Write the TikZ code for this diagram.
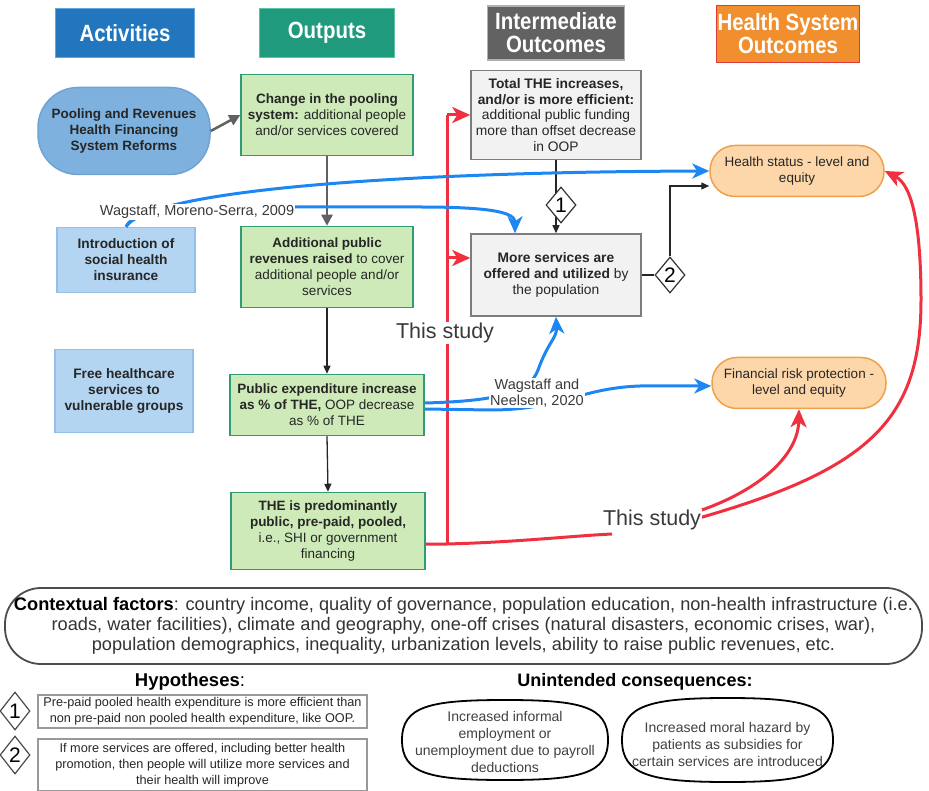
\documentclass[tikz,border=0pt]{standalone}
\usepackage{fontspec}
\setmainfont{Liberation Sans}
\newfontfamily\condfont[FakeStretch=0.87]{Liberation Sans}
\usetikzlibrary{arrows.meta,shapes.geometric}
\definecolor{actblue}{HTML}{2276BE}
\definecolor{actline}{HTML}{63A5DD}
\definecolor{outgreen}{HTML}{1F9A7C}
\definecolor{outln}{HTML}{5CC3A3}
\definecolor{intgray}{HTML}{626262}
\definecolor{intln}{HTML}{B0B0B0}
\definecolor{hsoorange}{HTML}{F18F2E}
\definecolor{hsoln}{HTML}{DD3A3A}
\definecolor{poolfill}{HTML}{7EB1DE}
\definecolor{poolln}{HTML}{6EA3D4}
\definecolor{lbfill}{HTML}{B3D5F1}
\definecolor{lbln}{HTML}{93C0E8}
\definecolor{gfill}{HTML}{CDEAB8}
\definecolor{gln}{HTML}{2F9C74}
\definecolor{bxfill}{HTML}{F2F2F2}
\definecolor{bxln}{HTML}{7D7D7D}
\definecolor{ofill}{HTML}{FDD7A9}
\definecolor{oln}{HTML}{EFA04A}
\definecolor{txt}{HTML}{262626}
\definecolor{arrblue}{HTML}{1C87F2}
\definecolor{arrred}{HTML}{F0303F}
\definecolor{arrgray}{HTML}{616161}
\definecolor{lbl}{HTML}{3A3A3A}
\begin{document}
\begin{tikzpicture}[x=1pt,y=-1pt,
  hdr/.style={line width=1.5pt, text=white, font=\condfont\bfseries\fontsize{23.5}{23}\selectfont, align=center, inner sep=0pt},
  box/.style={line width=1.5pt, align=center, inner sep=1pt, font=\fontsize{13.5}{16}\selectfont, text=txt},
  gbox/.style={box, fill=gfill, draw=gln},
  lbbox/.style={box, fill=lbfill, draw=lbln, minimum width=138pt},
  graybox/.style={box, fill=bxfill, draw=bxln, minimum width=170pt, font=\fontsize{13.8}{15.6}\selectfont},
  obox/.style={box, fill=ofill, draw=oln, rounded corners=25pt, minimum width=174pt, minimum height=51pt, font=\fontsize{13.5}{16}\selectfont},
  dia/.style={diamond, draw=black!80, line width=1.2pt, fill=white, inner sep=0pt, minimum width=30pt, minimum height=36pt, font=\fontsize{21}{21}\selectfont},
  grayarr/.style={draw=arrgray, line width=2.5pt, -{Triangle[length=11pt,width=11pt]}},
  blkarr/.style={draw=black!85, line width=1.3pt, -{Triangle[length=8pt,width=7pt]}},
  redarr/.style={draw=arrred, line width=3pt, -{Stealth[length=18pt,width=16pt,inset=5pt]}},
  redln/.style={draw=arrred, line width=3pt},
  bluearr/.style={draw=arrblue, line width=3pt, -{Stealth[length=17pt,width=15pt,inset=5pt]}},
  studylbl/.style={fill=white, inner sep=1pt, text=lbl, font=\fontsize{21.5}{22}\selectfont},
  reflbl/.style={fill=white, inner sep=1pt, text=lbl, align=center, font=\fontsize{14.5}{15.5}\selectfont},
  hypbox/.style={draw=black!40, line width=1.6pt, align=center, inner sep=1pt, text=txt, font=\fontsize{12.7}{16}\selectfont, minimum width=329pt},
  ubl/.style={draw=black, line width=1.8pt},
  ubtxt/.style={align=center, text=black!75, font=\fontsize{14}{17}\selectfont, inner sep=0pt}
]
\useasboundingbox (0,0) rectangle (929,791);

% headers
\node[hdr, fill=actblue, draw=actline, minimum width=139pt, minimum height=49pt] (act) at (125,33) {Activities};
\node[hdr, fill=outgreen, draw=outln, minimum width=135pt, minimum height=49pt] (out) at (327,33) {Outputs};
\node[hdr, fill=intgray, draw=intln, minimum width=137pt, minimum height=54pt] (inter) at (556,33) {Intermediate\\Outcomes};
\node[hdr, fill=hsoorange, draw=hsoln, minimum width=143pt, minimum height=57pt] (hso) at (788,34) {Health System\\Outcomes};

% activities
\node[box, fill=poolfill, draw=poolln, rounded corners=40pt, minimum width=172pt, minimum height=87pt, font=\bfseries\fontsize{13.5}{16}\selectfont] (pool) at (124,131) {Pooling and Revenues\\Health Financing\\System Reforms};
\node[lbbox, minimum height=65pt, font=\bfseries\fontsize{13.7}{16}\selectfont] (intro) at (126,260) {Introduction of\\social health\\insurance};
\node[lbbox, minimum height=83pt, font=\bfseries\fontsize{13.7}{16}\selectfont] (free) at (124,391) {Free healthcare\\services to\\vulnerable groups};

% outputs
\node[gbox, minimum width=172pt, minimum height=81pt] (chg) at (327,115) {\textbf{Change in the pooling}\\\textbf{system:} additional people\\and/or services covered};
\node[gbox, minimum width=172pt, minimum height=81pt] (addp) at (327,267) {\textbf{Additional public}\\\textbf{revenues raised} to cover\\additional people and/or\\services};
\node[gbox, minimum width=194pt, minimum height=61pt] (pexp) at (327,405) {\textbf{Public expenditure increase}\\\textbf{as \% of THE,} OOP decrease\\as \% of THE};
\node[gbox, minimum width=194pt, minimum height=77pt] (thep) at (328,531) {\textbf{THE is predominantly}\\\textbf{public, pre-paid, pooled,}\\i.e., SHI or government\\financing};

% intermediate
\node[graybox, minimum height=89pt] (tot) at (556,115) {\textbf{Total THE increases,}\\\textbf{and/or is more efficient:}\\additional public funding\\more than offset decrease\\in OOP};
\node[graybox, minimum height=82pt] (ms) at (556,275) {\textbf{More services are}\\\textbf{offered and utilized} by\\the population};

% health system outcomes
\node[obox] (hs) at (797,171) {Health status - level and\\equity};
\node[obox] (frp) at (799,383) {Financial risk protection -\\level and equity};

% black / gray arrows
\draw[grayarr] (pool.east) -- (chg.west);
\draw[grayarr] (chg.south) -- (addp.north);
\draw[blkarr] (addp.south) -- (pexp.north);
\draw[blkarr] (pexp.south) -- (thep.north);
\draw[blkarr] (tot.south) -- (ms.north);
\node[dia] (d1) at (561,205) {1};
\node[dia] (d2) at (670,275) {2};
\draw[draw=black!85, line width=1.3pt] (ms.east) -- (d2.west);
\draw[blkarr] (d2.north) |- ([yshift=-15pt]hs.west);

% red (this study)
\coordinate (rtop) at (447,115);
\coordinate (rms) at (447,258);
\coordinate (rbot) at (447,544);
\coordinate (tsin) at (612,534);
\draw[redln] ([yshift=-13pt]thep.east) -- (rbot) .. controls (520,542) and (570,536) .. (tsin);
\draw[redln] (rbot) -- (rtop);
\draw[redarr] (rtop) -- (tot.west);
\draw[redarr] (rms) -- (ms.west |- rms);
\coordinate (tsout1) at (690,514);
\coordinate (tsout2) at (692,520);
\draw[redarr] (tsout1) .. controls (760,492) and (798,455) .. (frp.south);
\draw[redarr] (tsout2) .. controls (870,470) and (921,420) .. (921,300) .. controls (921,225) and (912,185) .. (hs.east);
\node[studylbl] (ts1) at (445,333) {This study};
\node[studylbl] (ts2) at (652,520) {This study};

% blue (literature)
\draw[bluearr] (intro.north) .. controls (150,190) and (400,172) .. (hs.west);
\draw[bluearr] (intro.north) .. controls (135,210) and (160,207) .. (300,207) -- (420,207) .. controls (495,207) and (515,213) .. ([xshift=-41pt]ms.north);
\node[reflbl] (wm) at (197,212) {Wagstaff, Moreno-Serra, 2009};
\draw[bluearr] ([yshift=2pt]pexp.east) .. controls (500,401) and (530,392) .. (538,370) .. controls (548,342) and (557,338) .. (ms.south);
\draw[bluearr] ([yshift=-4pt]pexp.east) -- (490,410) .. controls (560,410) and (580,388) .. (640,386) -- ([yshift=-3pt]frp.west);
\node[reflbl] (wn) at (537,393) {Wagstaff and\\Neelsen, 2020};

% contextual factors
\node[draw=black!70, line width=1.8pt, rounded corners=36pt, minimum width=917pt, minimum height=76pt, align=center, inner sep=0pt, text=black!80, font=\fontsize{18.2}{19.8}\selectfont] (ctx) at (463.5,626) {\textcolor{black}{\bfseries Contextual factors}: country income, quality of governance, population education, non-health infrastructure (i.e.\\roads, water facilities), climate and geography, one-off crises (natural disasters, economic crises, war),\\population demographics, inequality, urbanization levels, ability to raise public revenues, etc.};

% hypotheses
\node[font=\fontsize{18.5}{20}\selectfont, text=black, inner sep=0pt] (hyp) at (190,682) {\textbf{Hypotheses}:};
\node[dia, draw=black!70, minimum height=38pt] (hd1) at (15,711) {1};
\node[dia, draw=black!70, minimum height=38pt] (hd2) at (15,755) {2};
\node[hypbox, minimum height=33pt] (hb1) at (202.5,711.5) {Pre-paid pooled health expenditure is more efficient than\\non pre-paid non pooled health expenditure, like OOP.};
\node[hypbox, minimum height=52pt] (hb2) at (202.5,765) {If more services are offered, including better health\\promotion, then people will utilize more services and\\their health will improve};

% unintended consequences
\node[font=\bfseries\fontsize{18}{20}\selectfont, text=black, inner sep=0pt] (unc) at (635,682) {Unintended consequences:};
\draw[ubl] (402,740) .. controls (402,706) and (430,700) .. (505,700) .. controls (580,700) and (608,706) .. (608,740) .. controls (608,774) and (580,780) .. (505,780) .. controls (430,780) and (402,774) .. (402,740) -- cycle;
\node[ubtxt] (e1t) at (505,742) {Increased informal\\employment or\\unemployment due to payroll\\deductions};
\draw[ubl] (622,740) .. controls (622,705) and (651,698) .. (727.5,698) .. controls (804,698) and (833,705) .. (833,740) .. controls (833,775) and (804,782) .. (727.5,782) .. controls (651,782) and (622,775) .. (622,740) -- cycle;
\node[ubtxt] (e2t) at (727.5,744) {Increased moral hazard by\\patients as subsidies for\\certain services are introduced};
\end{tikzpicture}
\end{document}
